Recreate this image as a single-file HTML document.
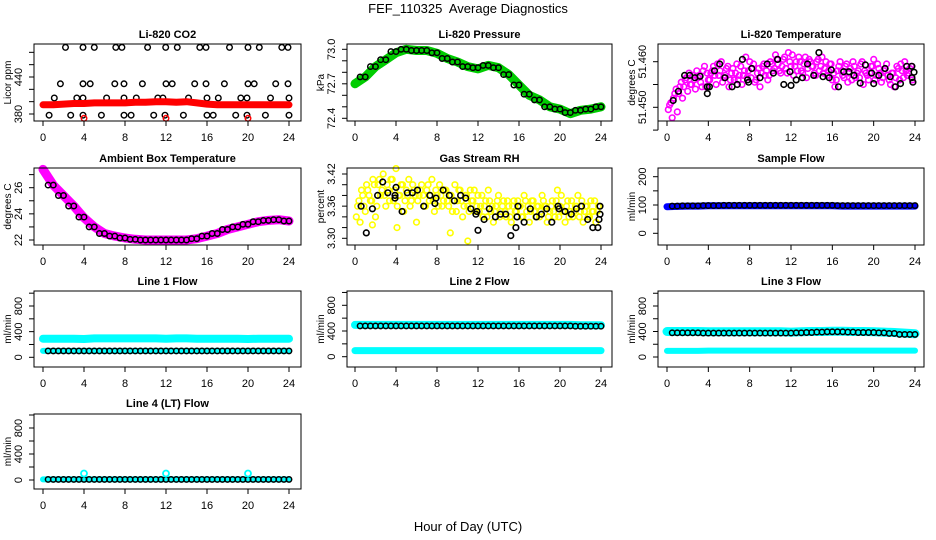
<!DOCTYPE html>
<html><head><meta charset="utf-8"><style>
html,body{margin:0;padding:0;background:#fff;}
svg{display:block;font-family:"Liberation Sans",Arial,sans-serif;}
</style></head><body>
<svg id="fig" width="936" height="540" viewBox="0 0 936 540" xmlns="http://www.w3.org/2000/svg">
<rect x="0" y="0" width="936" height="540" fill="#fff"/>
<text x="468" y="13" text-anchor="middle" font-size="13">FEF_110325&#160; Average Diagnostics</text>
<text x="468" y="531" text-anchor="middle" font-size="13">Hour of Day (UTC)</text>
</svg>
<script>
// ---------- data ----------
const hours = [0,1,2,3,4,5,6,7,8,9,10,11,12,13,14,15,16,17,18,19,20,21,22,23,24];
const xTicks = [0,4,8,12,16,20,24];

const co2BlackH = [2.2,3.9,5.0,7.1,7.7,10.2,11.97,13.1,15.3,15.9,18.2,20,21.1,23.3,23.9,
  1.7,3.9,4.6,7.0,7.9,9.7,12.0,12.6,14.8,15.9,17.7,20,20.6,22.7,23.9,
  1.1,3.3,3.9,6.2,7.9,9.1,11.2,11.7,14.2,16,17.1,19.3,19.9,22.2,24,
  0.6,2.7,3.9,5.7,7.9,8.6,10.8,11.9,13.7,16,16.6,18.8,19.9,21.7,24];
const co2BlackV = [488,488,488,488,488,488,488,488,488,488,488,488,488,488,488,
  429,429,429,429,429,429,429,429,429,429,429,429,429,429,429,
  406,406,406,406,406,406,406,406,406,406,406,406,406,406,406,
  378,378,378,378,378,378,378,378,378,378,378,378,378,378,378];
const co2Red = [395,395,396,397,397,398,398,398,398,399,399,400,400,399,400,398,396,395,395,395,395,395,395,395,395];
const co2RedOutH = [4,12,20];
const co2RedOutV = [373,373,373];

const pressGreen = [72.70,72.76,72.85,72.91,72.97,73.00,72.99,72.99,72.965,72.92,72.89,72.85,72.83,72.86,72.84,72.78,72.69,72.60,72.56,72.50,72.48,72.44,72.47,72.48,72.50];
const pressBlack = [72.71,72.76,72.85,72.91,72.98,73.00,72.99,72.99,72.97,72.92,72.89,72.85,72.84,72.86,72.84,72.78,72.69,72.61,72.56,72.50,72.48,72.45,72.47,72.48,72.50];

const tempPink = [51.4505,51.4477,51.4530,51.4490,51.4545,51.4520,51.4560,51.4535,51.4550,51.4570,51.4540,51.4565,51.4555,51.4580,51.4545,51.4560,51.4575,51.4590,51.4550,51.4570,51.4600,51.4565,51.4585,51.4545,51.4575,51.4560,51.4595,51.4570,51.4550,51.4580,51.4565,51.4600,51.4585,51.4555,51.4575,51.4545,51.4590,51.4570,51.4560,51.4600,51.4580,51.4615,51.4595,51.4575,51.4605,51.4585,51.4620,51.4590,51.4570,51.4600,51.4610,51.4580,51.4595,51.4565,51.4605,51.4590,51.4575,51.4600,51.4580,51.4610,51.4585,51.4570,51.4595,51.4560,51.4545,51.4580,51.4600,51.4570,51.4590,51.4555,51.4585,51.4600,51.4565,51.4580,51.4595,51.4550,51.4575,51.4560,51.4590,51.4605,51.4570,51.4585,51.4555,51.4580,51.4595,51.4560,51.4575,51.4545,51.4590,51.4560,51.4580,51.4600,51.4570,51.4585,51.4560];
const tempPinkB = [51.4495,51.4510,51.4520,51.4540,51.4530,51.4555,51.4545,51.4565,51.4575,51.4550,51.4560,51.4580,51.4570,51.4545,51.4590,51.4575,51.4560,51.4580,51.4570,51.4595,51.4580,51.4555,51.4570,51.4590,51.4560,51.4585,51.4575,51.4560,51.4590,51.4570,51.4610,51.4580,51.4565,51.4595,51.4560,51.4585,51.4575,51.4595,51.4580,51.4570,51.4595,51.4585,51.4605,51.4580,51.4590,51.4610,51.4575,51.4600,51.4615,51.4590,51.4580,51.4600,51.4575,51.4610,51.4585,51.4600,51.4590,51.4570,51.4605,51.4590,51.4575,51.4600,51.4580,51.4595,51.4575,51.4560,51.4590,51.4580,51.4565,51.4595,51.4575,51.4560,51.4590,51.4575,51.4565,51.4600,51.4580,51.4570,51.4575,51.4590,51.4560,51.4595,51.4575,51.4565,51.4585,51.4570,51.4550,51.4575,51.4565,51.4585,51.4595,51.4565,51.4580,51.4575,51.4590];
const tempBlackH = [0.6,1.1,1.7,2.2,2.7,3.2,3.9,3.9,4.1,4.6,5.1,5.6,6.3,6.8,7.3,7.8,7.9,8.2,9.0,9.7,10.3,10.7,11.3,11.9,12.0,12.5,13.1,13.6,14.2,14.7,15.1,15.7,15.9,16.6,17.1,17.6,18.1,18.7,19.2,19.8,20.0,20.5,21.1,21.6,22.1,22.6,23.2,23.7,23.7,23.8,23.9];
const tempBlackV = [51.4515,51.4535,51.4570,51.4570,51.4565,51.4568,51.4545,51.4530,51.4545,51.4580,51.4595,51.4565,51.4545,51.4550,51.4605,51.4560,51.4555,51.4585,51.4565,51.4595,51.4575,51.4605,51.4550,51.4578,51.4548,51.4560,51.4565,51.4595,51.4570,51.4620,51.4567,51.4565,51.4582,51.4545,51.4578,51.4578,51.4570,51.4553,51.4593,51.4575,51.4552,51.4570,51.4585,51.4567,51.4545,51.4552,51.4590,51.4590,51.4565,51.4555,51.4577];

const ambMagenta = [27.4,26.2,25.4,24.6,23.7,23.0,22.5,22.3,22.15,22.05,22.0,22.0,22.0,22.0,22.0,22.1,22.3,22.5,22.8,23.0,23.2,23.4,23.5,23.55,23.45];
const ambBlack = [27.3,26.2,25.4,24.6,23.75,23.0,22.5,22.3,22.15,22.05,22.0,22.0,22.0,22.0,22.0,22.1,22.3,22.5,22.8,23.0,23.2,23.4,23.5,23.55,23.45];

const rhYellow = [3.36,3.33,3.38,3.35,3.39,3.37,3.41,3.34,3.40,3.38,3.42,3.36,3.39,3.41,3.37,3.43,3.38,3.40,3.35,3.39,3.41,3.37,3.39,3.33,3.38,3.40,3.36,3.39,3.37,3.41,3.35,3.38,3.40,3.36,3.39,3.37,3.38,3.35,3.40,3.37,3.39,3.34,3.38,3.36,3.39,3.37,3.35,3.38,3.36,3.34,3.37,3.39,3.35,3.33,3.36,3.38,3.35,3.37,3.34,3.36,3.33,3.37,3.35,3.36,3.34,3.38,3.35,3.33,3.37,3.35,3.36,3.34,3.38,3.36,3.33,3.35,3.37,3.34,3.39,3.36,3.35,3.33,3.37,3.35,3.34,3.36,3.38,3.35,3.33,3.36,3.34,3.37,3.35,3.33,3.36];
const rhYellowB = [3.34,3.37,3.39,3.36,3.40,3.38,3.37,3.40,3.36,3.41,3.39,3.38,3.40,3.37,3.41,3.39,3.36,3.38,3.40,3.37,3.38,3.36,3.40,3.38,3.37,3.39,3.38,3.36,3.40,3.38,3.37,3.39,3.36,3.38,3.37,3.39,3.36,3.38,3.37,3.35,3.39,3.37,3.36,3.38,3.35,3.37,3.39,3.36,3.35,3.38,3.36,3.34,3.37,3.36,3.35,3.37,3.34,3.36,3.35,3.37,3.34,3.36,3.35,3.37,3.36,3.34,3.37,3.36,3.35,3.37,3.34,3.36,3.35,3.37,3.36,3.34,3.36,3.35,3.37,3.34,3.38,3.35,3.36,3.34,3.37,3.35,3.36,3.34,3.37,3.35,3.36,3.34,3.35,3.37,3.35];
const rhOutH = [11.0,9.3,4.1,1.7];
const rhOutV = [3.295,3.31,3.32,3.325];
const rhBlackH = [0.6,1.1,1.7,2.2,2.7,3.2,3.9,3.9,4.0,4.6,5.1,5.6,6.1,6.7,7.3,7.8,7.9,8.6,9.2,9.7,10.3,10.8,11.3,11.8,11.9,12.0,12.6,13.1,13.7,14.2,14.7,15.2,15.7,15.8,15.9,16.5,17.1,17.7,18.2,18.7,19.2,19.8,19.9,20.5,21.1,21.6,22.1,22.7,23.2,23.7,23.8,23.9,23.9];
const rhBlackV = [3.36,3.31,3.355,3.38,3.405,3.385,3.375,3.38,3.395,3.35,3.385,3.385,3.39,3.36,3.38,3.365,3.375,3.39,3.38,3.37,3.38,3.375,3.355,3.345,3.35,3.315,3.335,3.355,3.34,3.345,3.345,3.305,3.32,3.34,3.36,3.33,3.355,3.34,3.345,3.355,3.33,3.36,3.355,3.35,3.345,3.355,3.36,3.335,3.32,3.32,3.335,3.345,3.36];

const sampleBlue = [94,95,96,96,97,97,97,97,97,97,97,97,97,97,97,97,97,96,96,96,96,96,96,96,96];
const sampleBlack = [95,96,97,97,98,98,99,99,99,99,99,99,99,99,99,99,99,98,98,98,98,98,98,98,98];

const line1CyanHi = [290,290,290,290,285,295,295,295,295,295,295,295,290,295,295,290,290,290,290,290,285,290,290,290,290];
const line1CyanLo = [100,100,100,100,100,100,100,100,100,100,100,100,100,100,100,100,100,100,100,100,100,100,100,100,100];
const line1Black  = [100,100,100,100,100,100,100,100,100,100,100,100,100,100,100,100,100,100,100,100,100,100,100,100,100];
const line2CyanHi = [495,495,495,495,495,495,495,495,495,495,495,495,495,495,495,495,495,495,495,495,495,495,490,490,490];
const line2CyanLo = [95,95,95,95,95,95,95,95,95,95,95,95,95,95,95,95,95,95,95,95,95,95,95,95,95];
const line2Black  = [480,480,480,480,480,480,480,480,480,480,480,480,480,480,480,480,480,480,480,480,480,480,475,475,475];
const line3CyanHi = [400,400,400,400,395,395,395,395,395,395,395,395,390,395,400,400,405,405,400,400,395,390,385,375,365];
const line3CyanLo = [95,95,95,95,100,100,100,100,100,100,100,100,100,100,100,100,100,100,100,100,100,100,100,100,100];
const line3Black  = [380,380,380,380,375,375,375,375,375,375,375,375,375,380,385,390,395,395,390,385,385,380,370,355,355];
const line4Cyan   = [10,10,10,10,10,10,10,10,10,10,10,10,10,10,10,10,10,10,10,10,10,10,10,10,10];
const line4Black  = [10,10,10,10,10,10,10,10,10,10,10,10,10,10,10,10,10,10,10,10,10,10,10,10,10];
const line4OutH = [4,12,20];
const line4OutV = [100,100,100];

// ---------- helpers ----------
const NS = 'http://www.w3.org/2000/svg';
const svg = document.getElementById('fig');
function mk(tag, attrs, parent){ const e=document.createElementNS(NS,tag); for(const k in attrs) e.setAttribute(k,attrs[k]); (parent||svg).appendChild(e); return e; }
function lin(v1,p1,v2,p2){ return v => p1 + (v-v1)*(p2-p1)/(v2-v1); }

const cols = [{bx0:34,bx1:301,h0:43,h24:289},{bx0:347,bx1:612,h0:355,h24:601},{bx0:658,bx1:924,h0:667,h24:915}];
const rows = [{by0:44,by1:121,title:34},{by0:168,by1:245,title:158},{by0:291,by1:367,title:281},{by0:414,by1:489,title:403}];

function panel(name, r, c, title, ylab, yv, yTicks, yLabels, fmt){
  const R=rows[r], C=cols[c];
  const g = mk('g',{});
  
  
  const xs = lin(0,C.h0,24,C.h24);
  const ys = lin(yv[0],yv[1],yv[2],yv[3]);
  const plot = mk('g',{},g);
  
  
  const t = mk('text',{x:(C.bx0+C.bx1)/2,y:R.title+4,'text-anchor':'middle','font-size':11,'font-weight':'bold'},g);
  t.textContent = title;
  
  
  const box = mk('rect',{x:C.bx0,y:R.by0,width:C.bx1-C.bx0,height:R.by1-R.by0,fill:'none',stroke:'#000','stroke-width':1},g);
  
  
  const xa = mk('g',{},g);
  
  
  mk('line',{x1:xs(0),x2:xs(24),y1:R.by1,y2:R.by1,stroke:'#000'},xa);
  xTicks.forEach(v=>{
    mk('line',{x1:xs(v),x2:xs(v),y1:R.by1,y2:R.by1+5,stroke:'#000'},xa);
    const tl = mk('text',{x:xs(v),y:R.by1+20,'text-anchor':'middle','font-size':11},xa);
    tl.textContent = v;
    
    
  });
  const ya = mk('g',{},g);
  
  
  mk('line',{x1:C.bx0,x2:C.bx0,y1:ys(yTicks[0]),y2:ys(yTicks[yTicks.length-1]),stroke:'#000'},ya);
  yTicks.forEach(v=>{ mk('line',{x1:C.bx0-5,x2:C.bx0,y1:ys(v),y2:ys(v),stroke:'#000'},ya); });
  yLabels.forEach(v=>{
    const tx=C.bx0-12, ty=ys(v);
    const tl = mk('text',{x:tx,y:ty,'text-anchor':'middle','font-size':11,transform:`rotate(-90 ${tx} ${ty})`},ya);
    tl.textContent = fmt?fmt(v):v;
    
    
  });
  const lx=C.bx0-23, ly=(R.by0+R.by1)/2;
  const yl = mk('text',{x:lx,y:ly,'text-anchor':'middle','font-size':10,transform:`rotate(-90 ${lx} ${ly})`},g);
  yl.textContent = ylab;
  
  
  return {g:plot,xs,ys};
}
function band(P, hs, vs, color, w, nm){
  const pts = hs.map((h,i)=>P.xs(h).toFixed(1)+','+P.ys(vs[i]).toFixed(1)).join(' ');
  const e = mk('polyline',{points:pts,fill:'none',stroke:color,'stroke-width':w,'stroke-linejoin':'round','stroke-linecap':'round'},P.g);
  
  
}
function pts(P, hs, vs, color, nm, r, sw){
  const g = mk('g',{},P.g);
  
  
  hs.forEach((h,i)=>{ mk('circle',{cx:P.xs(h).toFixed(1),cy:P.ys(vs[i]).toFixed(1),r:r||2.8,fill:'none',stroke:color,'stroke-width':sw||1.4},g); });
}
function halfPts(P, vs, color, nm){
  const g = mk('g',{},P.g);
  
  
  for(let i=1;i<vs.length;i++){
    [hours[i]-0.5, hours[i]].forEach(h=>{
      const v = vs[i];
      mk('circle',{cx:P.xs(h).toFixed(1),cy:P.ys(v).toFixed(1),r:2.7,fill:'none',stroke:color,'stroke-width':1.5},g);
    });
  }
}

// ---------- panels ----------
let P;
P = panel('co2',0,0,'Li-820 CO2','Licor ppm',[380,114,440,77],[380,400,420,440,460,480],[380,440]);
pts(P, co2BlackH, co2BlackV, '#000', 'co2-black-points');
band(P, hours, co2Red, '#f00', 7, 'co2-red-series');
pts(P, co2RedOutH, co2RedOutV, '#f00', 'co2-red-outliers');

P = panel('pressure',0,1,'Li-820 Pressure','kPa',[72.4,118.3,73.0,49.3],[72.4,72.5,72.6,72.7,72.8,72.9,73.0],[72.4,72.7,73.0],v=>v.toFixed(1));
band(P, hours, pressGreen, '#00cd00', 9, 'pressure-green-series');
halfPts(P, pressBlack, '#000', 'pressure-black-points');

P = panel('li820-temp',0,2,'Li-820 Temperature','degrees C',[51.450,107.3,51.460,61.7],[51.445,51.450,51.455,51.460],[51.450,51.460],v=>v.toFixed(3));
pts(P, tempPink.map((v,i)=>0.25*(i+1)), tempPink, '#ff00ff', 'temp-magenta-points', 2.8, 1.6);
pts(P, tempPinkB.map((v,i)=>0.25*(i+1)-0.12), tempPinkB, '#ff00ff', 'temp-magenta-points-b', 2.8, 1.6);
pts(P, tempBlackH, tempBlackV, '#000', 'temp-black-points', 2.8, 1.6);

P = panel('ambient',1,0,'Ambient Box Temperature','degrees C',[22,240,26,187.7],[22,23,24,25,26,27],[22,24,26]);
band(P, hours, ambMagenta, '#ff00ff', 9, 'ambient-magenta-series');
halfPts(P, ambBlack, '#000', 'ambient-black-points');

P = panel('rh',1,1,'Gas Stream RH','percent',[3.30,238.3,3.42,174],[3.30,3.32,3.34,3.36,3.38,3.40,3.42],[3.30,3.36,3.42],v=>v.toFixed(2));
pts(P, rhYellow.map((v,i)=>0.25*(i+1)), rhYellow, '#ffff00', 'rh-yellow-points', 2.8, 1.6);
pts(P, rhYellowB.map((v,i)=>0.25*(i+1)-0.12), rhYellowB, '#ffff00', 'rh-yellow-points-b', 2.8, 1.6);
pts(P, rhOutH, rhOutV, '#ffff00', 'rh-yellow-outliers', 2.8, 1.6);
pts(P, rhBlackH, rhBlackV, '#000', 'rh-black-points', 2.8, 1.6);

P = panel('sample-flow',1,2,'Sample Flow','ml/min',[0,233.3,200,176.7],[0,50,100,150,200],[0,100,200]);
band(P, hours, sampleBlue, '#0000ff', 7, 'sample-blue-series');
halfPts(P, sampleBlack, '#000', 'sample-black-points');

P = panel('line1',2,0,'Line 1 Flow','ml/min',[0,357.3,800,306],[0,200,400,600,800,1000],[0,400,800]);
band(P, hours, line1CyanHi, '#00ffff', 8, 'line1-cyan-high');
band(P, hours, line1CyanLo, '#00ffff', 6, 'line1-cyan-low');
halfPts(P, line1Black, '#000', 'line1-black-points');

P = panel('line2',2,1,'Line 2 Flow','ml/min',[0,356.7,400,331],[0,200,400,600,800,1000],[0,400,800]);
band(P, hours, line2CyanHi, '#00ffff', 8, 'line2-cyan-high');
band(P, hours, line2CyanLo, '#00ffff', 7, 'line2-cyan-low');
halfPts(P, line2Black, '#000', 'line2-black-points');

P = panel('line3',2,2,'Line 3 Flow','ml/min',[0,357,800,306],[0,200,400,600,800,1000],[0,400,800]);
band(P, hours, line3CyanHi, '#00ffff', 9, 'line3-cyan-high');
band(P, hours, line3CyanLo, '#00ffff', 6, 'line3-cyan-low');
halfPts(P, line3Black, '#000', 'line3-black-points');

P = panel('line4',3,0,'Line 4 (LT) Flow','ml/min',[0,480,800,428],[0,200,400,600,800,1000],[0,400,800]);
band(P, hours, line4Cyan, '#00ffff', 6, 'line4-cyan-series');
halfPts(P, line4Black, '#000', 'line4-black-points');
pts(P, line4OutH, line4OutV, '#00ffff', 'line4-cyan-outliers', 3, 1.8);
</script>
</body></html>
